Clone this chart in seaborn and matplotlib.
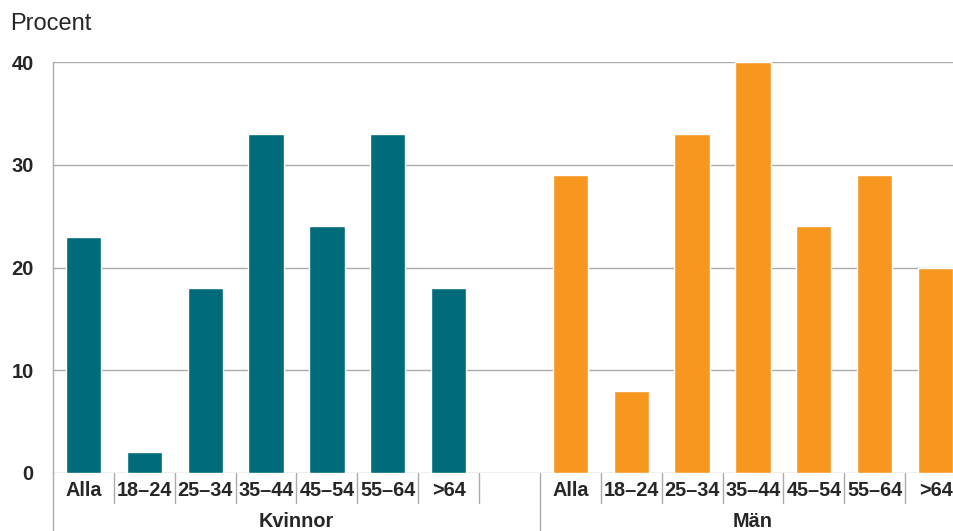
import matplotlib
matplotlib.use("Agg")
import matplotlib.pyplot as plt
import matplotlib.transforms as mtransforms
import seaborn as sns
import pandas as pd

# Data
age_groups = ["Alla", "18–24", "25–34", "35–44", "45–54", "55–64", ">64"]
kvinnor = [23, 2, 18, 33, 24, 33, 18]
man = [29, 8, 33, 40, 24, 29, 20]
groups = ["Kvinnor", "Män"]
colors = {"Kvinnor": "#006B7A", "Män": "#F7971F"}
y_ticks = [0, 10, 20, 30, 40]


def build_frame():
    rows = []
    for group, values in zip(groups, [kvinnor, man]):
        for age, val in zip(age_groups, values):
            rows.append({"slot": f"{group} {age}", "group": group, "age": age, "value": val})
    return pd.DataFrame(rows)


def main():
    sns.set_style("white")
    plt.rcParams["font.family"] = ["Liberation Sans", "DejaVu Sans"]

    df = build_frame()
    order = [f"Kvinnor {a}" for a in age_groups] + [" "] + [f"Män {a}" for a in age_groups]

    fig = plt.figure(figsize=(9.54, 5.31), dpi=100)
    ax = fig.add_axes([53 / 954, 58 / 531, 913 / 954, 411 / 531])

    sns.barplot(
        data=df, x="slot", y="value", hue="group", order=order,
        palette=colors, dodge=False, width=0.58, saturation=1,
        legend=False, ax=ax, zorder=3,
    )

    ax.set_xlim(-0.5, len(order) - 0.5)
    ax.set_ylim(0, 40)
    ax.set_yticks(y_ticks)
    ax.set_yticklabels([str(t) for t in y_ticks], fontsize=14.5, fontweight="bold")
    ax.yaxis.grid(True, color="#ABABAB", linewidth=1, zorder=0)
    ax.set_axisbelow(True)
    ax.tick_params(axis="y", length=0, pad=14)

    ax.set_xticks(range(len(order)))
    ax.set_xticklabels(age_groups + [""] + age_groups, fontsize=14.3, fontweight="bold")
    ax.tick_params(axis="x", length=0, pad=6)
    ax.set_xlabel("")
    ax.set_ylabel("")

    for side in ["top", "right", "bottom"]:
        ax.spines[side].set_visible(False)
    ax.spines["left"].set_color("#ABABAB")
    ax.spines["left"].set_linewidth(1)

    # category dividers below the axis
    trans = mtransforms.blended_transform_factory(ax.transData, ax.transAxes)
    for k in range(len(order) + 1):
        x = k - 0.5
        y_end = -0.145 if k in (0, 8, 15) else -0.073
        ax.plot([x, x], [0, y_end], color="#ABABAB", lw=1, transform=trans, clip_on=False)

    # group labels
    ax.text(3.5, -0.1325, "Kvinnor", transform=trans, ha="center", va="baseline",
            fontsize=14.3, fontweight="bold")
    ax.text(11, -0.1325, "Män", transform=trans, ha="center", va="baseline",
            fontsize=14.3, fontweight="bold")

    fig.text(10 / 954, 1 - 24 / 531, "Procent", ha="left", va="center", fontsize=17)

    fig.savefig("out.png", dpi=100)


if __name__ == "__main__":
    main()
